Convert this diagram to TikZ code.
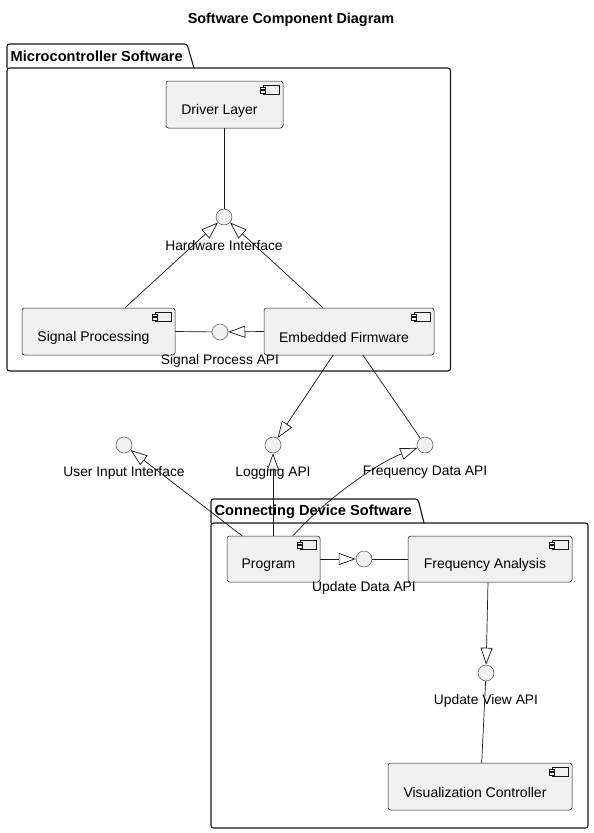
\documentclass[tikz,border=0pt]{standalone}
\usepackage{fontspec}
\setmainfont{Liberation Sans}
\usetikzlibrary{arrows.meta}
\definecolor{compfill}{HTML}{F1F1F1}
\definecolor{edgec}{HTML}{181818}
\tikzset{
  comp/.style={draw=edgec, fill=compfill, line width=0.5pt, rounded corners=2.5pt, inner sep=0},
  iface/.style={circle, draw=edgec!75, fill=compfill, line width=0.5pt, minimum size=16pt, inner sep=0},
  lbl/.style={font=\fontsize{13.8}{16}\selectfont, inner sep=0},
  ctext/.style={font=\fontsize{14}{16}\selectfont, inner sep=0},
  pkg/.style={draw=edgec, line width=1.1pt, rounded corners=2.5pt},
  pkgtitle/.style={font=\bfseries\fontsize{14.6}{17}\selectfont, anchor=west, inner sep=0},
  titlestyle/.style={font=\bfseries\fontsize{14.4}{17}\selectfont, inner sep=0},
  conn/.style={draw=edgec, line width=0.7pt},
  ext/.style={conn, -{Triangle[open, length=17pt, width=12pt]}},
  iconst/.style={draw=edgec, line width=0.5pt, fill=compfill},
}
\newcommand\compicon[1]{%
  \draw[iconst] ([shift={(-20.5,4.5)}]#1.north east) rectangle ([shift={(-4.5,13)}]#1.north east);
  \draw[iconst] ([shift={(-23,6)}]#1.north east) rectangle ([shift={(-18,8.5)}]#1.north east);
  \draw[iconst] ([shift={(-23,9.5)}]#1.north east) rectangle ([shift={(-18,12)}]#1.north east);
}
\begin{document}
\begin{tikzpicture}[x=1pt,y=-1pt]
\fill[white] (0,0) rectangle (594,833);
\useasboundingbox (0,0) rectangle (594,833);

\node[titlestyle] (title) at (291,20) {Software Component Diagram};

% packages
\draw[pkg] (7,68) -- (7,44) -- (187,44) -- (194,68);
\draw[pkg] (7,68) rectangle (450.5,371);
\node[pkgtitle] (p1t) at (10.5,56.5) {Microcontroller Software};

\draw[pkg] (211,523) -- (211,499) -- (418,499) -- (424,523);
\draw[pkg] (211,523) rectangle (588,828);
\node[pkgtitle] (p2t) at (214.5,511.5) {Connecting Device Software};

% components
\node[comp, minimum width=117pt, minimum height=47pt] (dl) at (224.5,104.5) {};
\node[comp, minimum width=153pt, minimum height=47pt] (sp) at (98.5,331.5) {};
\node[comp, minimum width=170pt, minimum height=47pt] (ef) at (349,331.5) {};
\node[comp, minimum width=93pt, minimum height=46pt] (prog) at (273.5,559) {};
\node[comp, minimum width=164pt, minimum height=46pt] (fa) at (490,559) {};
\node[comp, minimum width=184pt, minimum height=47pt] (vc) at (480,786.5) {};
\compicon{dl}\compicon{sp}\compicon{ef}\compicon{prog}\compicon{fa}\compicon{vc}
\node[ctext] (dlt) at ([shift={(-5,6)}]dl.center) {Driver Layer};
\node[ctext] (spt) at ([shift={(-5,6)}]sp.center) {Signal Processing};
\node[ctext] (eft) at ([shift={(-5,6)}]ef.center) {Embedded Firmware};
\node[ctext] (progt) at ([shift={(-5,6)}]prog.center) {Program};
\node[ctext] (fat) at ([shift={(-5,6)}]fa.center) {Frequency Analysis};
\node[ctext] (vct) at ([shift={(-5,6)}]vc.center) {Visualization Controller};

% interfaces
\node[iface] (hw) at (224,217) {};
\node[iface] (spapi) at (220,332) {};
\node[iface] (ui) at (124,445) {};
\node[iface] (log) at (273,445) {};
\node[iface] (fd) at (425,445) {};
\node[iface] (ud) at (364,559) {};
\node[iface] (uv) at (486,673) {};

\node[lbl] (hwl) at (224,245.5) {Hardware Interface};
\node[lbl] (spapil) at (220,360.5) {Signal Process API};
\node[lbl] (uil) at (124,472.5) {User Input Interface};
\node[lbl] (logl) at (273,472.5) {Logging API};
\node[lbl] (fdl) at (425,472.5) {Frequency Data API};
\node[lbl] (udl) at (364,587.5) {Update Data API};
\node[lbl] (uvl) at (486,700.5) {Update View API};

% connectors
\draw[conn] ([xshift=-0.5pt]dl.south) -- (hw);
\draw[ext] ([xshift=26.5pt]sp.north) -- (hw);
\draw[ext] ([xshift=-26pt]ef.north) -- (hw);
\draw[conn] (sp.east) -- (spapi);
\draw[ext] (ef.west) -- (spapi);
\draw[ext] ([xshift=-16pt]ef.south) -- (log);
\draw[conn] ([xshift=14pt]ef.south) -- (fd);
\draw[ext] ([xshift=-31.5pt]prog.north) -- (ui);
\draw[ext] ([xshift=-0.5pt]prog.north) -- (log);
\draw[ext] ([xshift=19.5pt]prog.north) .. controls (330,495) and (380,462) .. (fd);
\draw[ext] (prog.east) -- (ud);
\draw[conn] (ud) -- (fa.west);
\draw[ext] ([xshift=-2pt]fa.south) -- (uv);
\draw[conn] (uv) -- ([xshift=1.7pt]vc.north);
\end{tikzpicture}
\end{document}
